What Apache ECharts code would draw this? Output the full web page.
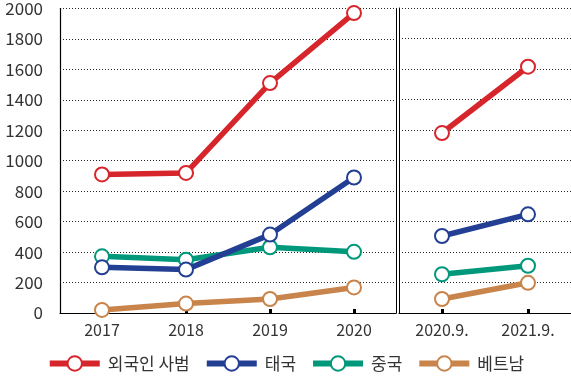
<!DOCTYPE html>
<html>
<head>
<meta charset="utf-8">
<script src="https://cdn.jsdelivr.net/npm/echarts@6/dist/echarts.min.js"></script>
<style>
  html, body { margin: 0; padding: 0; background: #fff; }
  #main { width: 571px; height: 377px; }
</style>
</head>
<body>
<div id="main"></div>
<script>
// 연도별 (좌측) / 9월 기준 (우측)
var yearCats = ['2017', '2018', '2019', '2020'];
var monthCats = ['2020.9.', '2021.9.'];
var seriesNames = ['외국인 사범', '태국', '중국', '베트남'];
var colors = ['#d7252c', '#233f93', '#00987a', '#c8844a'];

var yearValues = [
  [910, 920, 1510, 1970],  // 외국인 사범
  [300, 285, 515, 890],    // 태국
  [372, 350, 432, 402],    // 중국
  [20, 62, 92, 168]        // 베트남
];
var monthValues = [
  [1180, 1615],
  [505, 647],
  [254, 310],
  [92, 198]
];
var yTicks = { min: 0, max: 2000, interval: 200 };

var chart = echarts.init(document.getElementById('main'), null, { renderer: 'canvas' });
var fontFamily = '"Noto Sans CJK KR", "Noto Sans", sans-serif';

var dotted = { color: '#222', width: 1, type: [1, 2] };

function makeSeries(idx, data, axisIdx) {
  return {
    name: seriesNames[idx],
    type: 'line',
    xAxisIndex: axisIdx,
    yAxisIndex: axisIdx,
    data: data,
    symbol: 'emptyCircle',
    symbolSize: 14,
    z: 10 - idx,
    lineStyle: { width: 5.5, color: colors[idx] },
    itemStyle: { color: colors[idx], borderColor: colors[idx], borderWidth: 3 },
    emphasis: { disabled: true }
  };
}

var series = [];
for (var i = 0; i < seriesNames.length; i++) {
  series.push(makeSeries(i, yearValues[i], 0));
  series.push(makeSeries(i, monthValues[i], 1));
}

var option = {
  animation: false,
  color: colors,
  textStyle: { fontFamily: fontFamily },
  grid: [
    { left: 60, top: 8, right: 175, bottom: 64 },
    { left: 399, top: 8, right: 0, bottom: 64 }
  ],
  xAxis: [0, 1].map(function (g) {
    return {
      type: 'category',
      gridIndex: g,
      data: g === 0 ? yearCats : monthCats,
      boundaryGap: true,
      axisLine: { show: true, lineStyle: { color: '#000', width: 1.2 } },
      axisTick: { show: true, inside: true, alignWithLabel: true, length: 4, lineStyle: { color: '#000', width: 3 } },
      axisLabel: { color: '#333', fontSize: 16, margin: 9, fontFamily: fontFamily },
      splitLine: { show: false }
    };
  }),
  yAxis: [
    {
      type: 'value', gridIndex: 0,
      min: yTicks.min, max: yTicks.max, interval: yTicks.interval,
      axisLine: { show: true, lineStyle: { color: '#000', width: 1.2 } },
      axisTick: { show: false },
      axisLabel: {
        color: '#333', fontSize: 17, margin: 17, fontFamily: fontFamily,
        formatter: function (v) { return String(v); }
      },
      splitLine: { show: true, lineStyle: dotted }
    },
    {
      type: 'value', gridIndex: 1,
      min: yTicks.min, max: yTicks.max, interval: yTicks.interval,
      axisLine: { show: true, lineStyle: { color: '#000', width: 1 } },
      axisTick: { show: false },
      axisLabel: { show: false },
      splitLine: { show: true, lineStyle: dotted }
    },
    {
      type: 'value', gridIndex: 0, position: 'right',
      min: yTicks.min, max: yTicks.max, interval: yTicks.interval,
      axisLine: { show: true, lineStyle: { color: '#000', width: 1 } },
      axisTick: { show: false },
      axisLabel: { show: false },
      splitLine: { show: false }
    }
  ],
  legend: {
    data: seriesNames,
    bottom: 0,
    left: 'center',
    itemWidth: 50,
    itemHeight: 18,
    itemGap: 14,
    lineStyle: { width: 6 },
    itemStyle: { borderWidth: 3 },
    textStyle: { color: '#333', fontSize: 17, fontFamily: fontFamily, padding: [0, 0, 0, 3] },
    selectedMode: false
  },
  series: series
};

chart.setOption(option);
</script>
</body>
</html>
